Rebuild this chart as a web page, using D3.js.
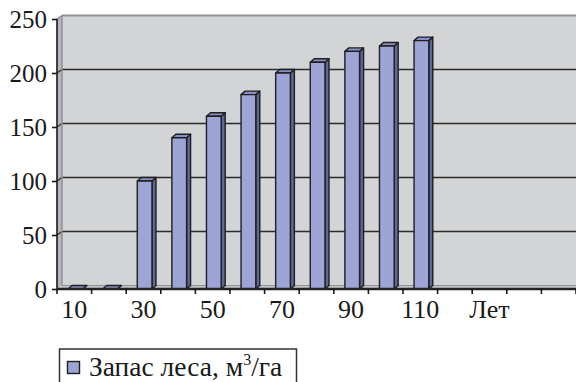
<!DOCTYPE html>
<html>
<head>
<meta charset="utf-8">
<script src="https://cdn.jsdelivr.net/npm/d3@7"></script>
</head>
<body style="margin:0">
<svg id="s" width="576" height="382"></svg>
<script>
// Forest stock by stand age
const categories = ["10", "20", "30", "40", "50", "60", "70", "80", "90", "100", "110", "", "Лет", "", ""];
const stock = [0, 0, 100, 140, 160, 180, 200, 210, 220, 225, 230, null, null, null, null];
const yTicks = [0, 50, 100, 150, 200, 250];
const seriesName = "Запас леса, м";

const FONT = "'Liberation Serif', 'Times New Roman', serif";
const svg = d3.select("#s");

// 3D geometry of the plot box
const left = 57, right = 576;
const wallDx = 5, wallDy = 3.5;      // depth offset of the back wall
const barDx = 4, barDy = 3.5;        // depth offset of the columns

const x = d3.scaleBand()
  .domain(d3.range(categories.length))
  .range([left, right]);

const yFront = d3.scaleLinear().domain([0, 250]).range([289, 19]);
const yBack = v => yFront(v) - wallDy;

const colors = {
  wall: "#d3d4d6",
  sideWall: "#b3b6ba",
  floor: "#c4c6c9",
  edge: "#8d9195",
  grid: "#2b2b2b",
  front: "#9da4d6",
  side: "#5e6799",
  top: "#8690c6",
  outline: "#1f1f1f",
  text: "#1a1a1a"
};

// back wall
svg.append("rect")
  .attr("x", left + wallDx).attr("y", yBack(250))
  .attr("width", right - left).attr("height", yBack(0) - yBack(250))
  .attr("fill", colors.wall);

// left side wall
svg.append("polygon")
  .attr("points", [
    [left, yFront(250)], [left + wallDx, yBack(250)],
    [left + wallDx, yBack(0)], [left, yFront(0)]
  ].join(" "))
  .attr("fill", colors.sideWall);

// floor
svg.append("polygon")
  .attr("points", [
    [left, yFront(0)], [left + wallDx, yBack(0)],
    [right + 10, yBack(0)], [right + 10, yFront(0)]
  ].join(" "))
  .attr("fill", colors.floor);

// gridlines: along the back wall and across the side wall
const grid = svg.append("g");
yTicks.filter(v => v > 0 && v < 250).forEach(v => {
  grid.append("line")
    .attr("x1", left + wallDx).attr("x2", right + 10)
    .attr("y1", yBack(v)).attr("y2", yBack(v))
    .attr("stroke", colors.grid).attr("stroke-width", 1.6);
  grid.append("line")
    .attr("x1", left).attr("x2", left + wallDx)
    .attr("y1", yFront(v)).attr("y2", yBack(v))
    .attr("stroke", colors.grid).attr("stroke-width", 1.2);
});

// wall edges
svg.append("line")
  .attr("x1", left + wallDx).attr("x2", right + 10)
  .attr("y1", yBack(250)).attr("y2", yBack(250))
  .attr("stroke", colors.edge).attr("stroke-width", 2);
svg.append("line")
  .attr("x1", left).attr("x2", left + wallDx)
  .attr("y1", yFront(250)).attr("y2", yBack(250))
  .attr("stroke", colors.edge).attr("stroke-width", 1.5);
svg.append("line")
  .attr("x1", left + wallDx).attr("x2", left + wallDx)
  .attr("y1", yBack(250)).attr("y2", yBack(0))
  .attr("stroke", colors.edge).attr("stroke-width", 1.5);
svg.append("line")
  .attr("x1", left + wallDx).attr("x2", right + 10)
  .attr("y1", yBack(0)).attr("y2", yBack(0))
  .attr("stroke", colors.edge).attr("stroke-width", 1);

// columns
const barW = x.bandwidth() * 0.425;
const barOff = x.bandwidth() * 0.32;
const bars = svg.append("g")
  .attr("stroke", colors.outline)
  .attr("stroke-width", 1.4)
  .attr("stroke-linejoin", "round");

stock.forEach((v, i) => {
  if (v === null) return;
  const x0 = x(i) + barOff, x1 = x0 + barW;
  const yt = yFront(v), yb = yFront(0);
  const g = bars.append("g");
  g.append("polygon")
    .attr("points", [[x1, yt], [x1 + barDx, yt - barDy], [x1 + barDx, yb - barDy], [x1, yb]].join(" "))
    .attr("fill", colors.side);
  g.append("polygon")
    .attr("points", [[x0, yt], [x0 + barDx, yt - barDy], [x1 + barDx, yt - barDy], [x1, yt]].join(" "))
    .attr("fill", colors.top);
  if (yb - yt > 0.5) {
    g.append("rect")
      .attr("x", x0).attr("y", yt)
      .attr("width", barW).attr("height", yb - yt)
      .attr("fill", colors.front);
  }
});

// front floor edge
svg.append("line")
  .attr("x1", left).attr("x2", right + 10)
  .attr("y1", yFront(0)).attr("y2", yFront(0))
  .attr("stroke", "#222").attr("stroke-width", 2.6);

// value axis: line and ticks from d3.axisLeft, labels as plain text
const yAxis = svg.append("g")
  .attr("transform", `translate(${left},0)`)
  .call(d3.axisLeft(yFront).tickValues(yTicks).tickSize(5).tickFormat(""));
yAxis.select(".domain").attr("stroke", colors.text).attr("stroke-width", 1.6)
  .attr("d", `M0,${yFront(250)}V${yFront(0)}`);
yAxis.selectAll(".tick line").attr("stroke", colors.text).attr("stroke-width", 1.6);

svg.append("g").selectAll("text").data(yTicks).join("text")
  .attr("x", left - 10)
  .attr("y", d => yFront(d) + 8.5)
  .attr("text-anchor", "end")
  .attr("font-size", 25)
  .style("font-family", FONT)
  .attr("fill", colors.text)
  .text(d => d);

// category axis
const xAxis = svg.append("g")
  .attr("transform", `translate(0,${yFront(0)})`);
d3.range(categories.length + 1).forEach(k => {
  const xx = left + k * x.step();
  xAxis.append("line")
    .attr("x1", xx).attr("x2", xx).attr("y1", 0).attr("y2", 5)
    .attr("stroke", colors.text).attr("stroke-width", 1.6);
});
const shown = categories.map((c, i) => ({ c, i })).filter(d => d.i % 2 === 0 && d.c);
xAxis.selectAll("text").data(shown).join("text")
  .attr("x", d => x(d.i) + x.bandwidth() / 2)
  .attr("y", 29)
  .attr("text-anchor", "middle")
  .attr("font-size", 26)
  .style("font-family", FONT)
  .attr("fill", colors.text)
  .text(d => d.c);

// legend
const legend = svg.append("g");
legend.append("rect")
  .attr("x", 59.5).attr("y", 349).attr("width", 237).attr("height", 45)
  .attr("fill", "#fff").attr("stroke", "#333").attr("stroke-width", 1.5);
legend.append("rect")
  .attr("x", 67.5).attr("y", 361.5).attr("width", 12).attr("height", 12)
  .attr("fill", colors.front).attr("stroke", colors.outline).attr("stroke-width", 1.4);
const lt = legend.append("text")
  .attr("x", 89).attr("y", 376)
  .attr("font-size", 27.5)
  .style("font-family", FONT)
  .attr("fill", colors.text);
lt.append("tspan").text(seriesName);
lt.append("tspan").attr("font-size", 16).attr("dy", -11).text("3");
lt.append("tspan").attr("dy", 11).text("/га");
</script>
</body>
</html>
